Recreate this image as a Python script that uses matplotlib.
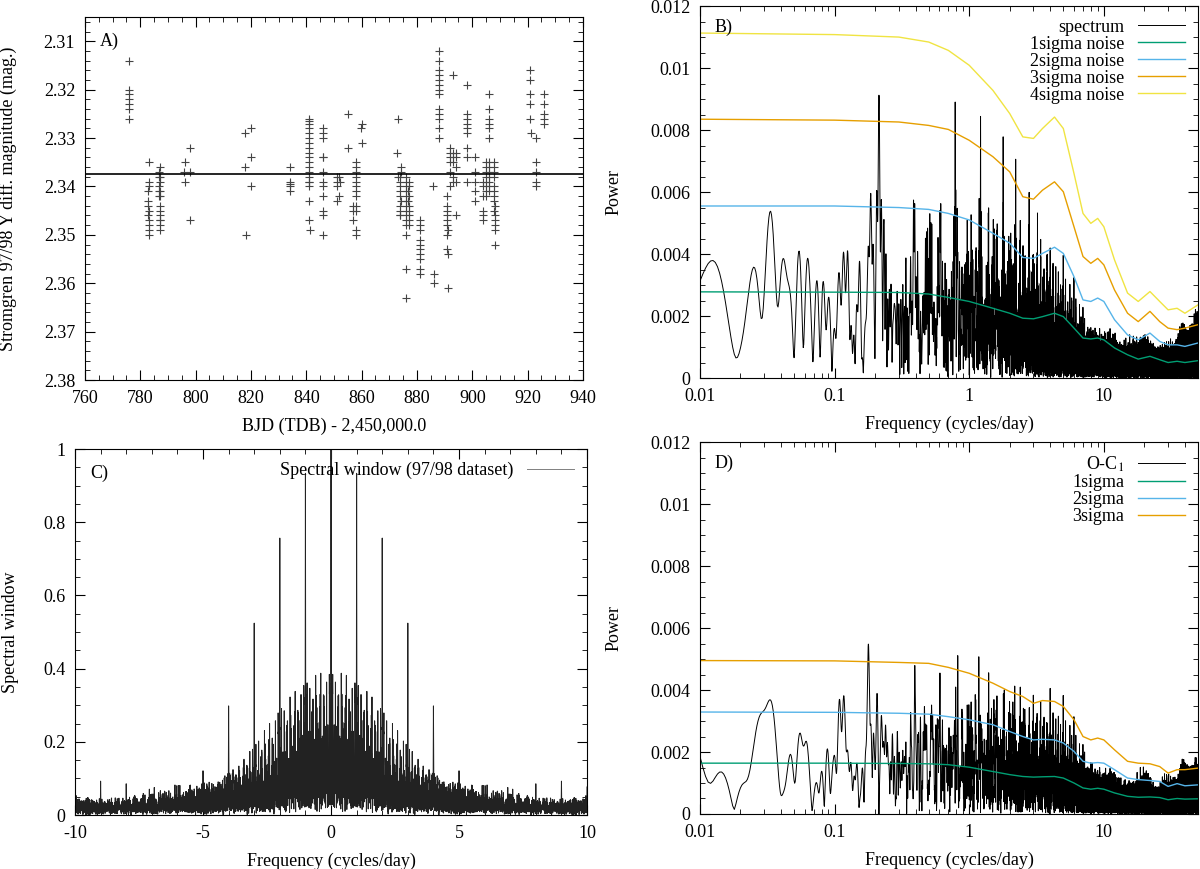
import numpy as np
import matplotlib
matplotlib.use("Agg")
import matplotlib.pyplot as plt
from matplotlib.ticker import MultipleLocator, LogLocator, NullFormatter, FuncFormatter

plt.rcParams['font.family'] = ['Liberation Serif', 'DejaVu Serif']
plt.rcParams['mathtext.fontset'] = 'stix'
plt.rcParams['font.size'] = 13

# --- light curve (97/98 season), one list of magnitudes per night ---
nights = [776, 783, 787, 796, 798, 818, 820, 834, 841, 846, 851, 852, 855,
          857, 858, 860, 873, 874, 876, 877, 881, 886, 888, 891, 892, 893,
          894, 898, 901, 904, 905, 906, 908, 921, 923, 926]
mags = [
    [2.3220, 2.3230, 2.3200, 2.3141, 2.3210, 2.3260, 2.3240],
    [2.344, 2.343, 2.346, 2.341, 2.340, 2.345, 2.349, 2.350, 2.347, 2.348, 2.339, 2.335],
    [2.341, 2.342, 2.340, 2.338, 2.337, 2.339, 2.344, 2.345, 2.342, 2.347, 2.346, 2.349,
     2.348, 2.347, 2.341, 2.336, 2.338],
    [2.337, 2.339, 2.335],
    [2.337, 2.332, 2.347],
    [2.336, 2.329, 2.350],
    [2.334, 2.340, 2.328],
    [2.3390, 2.3395, 2.3410, 2.3400, 2.3360],
    [2.3330, 2.3310, 2.3340, 2.3360, 2.3350, 2.3390, 2.3380, 2.3430, 2.3400, 2.3370,
     2.3320, 2.3300, 2.3290, 2.3270, 2.3260, 2.3280, 2.3265, 2.3390, 2.3470, 2.3490],
    [2.337, 2.339, 2.334, 2.340, 2.345, 2.342, 2.350, 2.346, 2.334, 2.330, 2.328, 2.329],
    [2.339, 2.338, 2.340, 2.343],
    [2.338, 2.342, 2.339],
    [2.332, 2.325],
    [2.344, 2.345, 2.347],
    [2.340, 2.338, 2.341, 2.339, 2.342, 2.345, 2.344, 2.349, 2.350, 2.337, 2.336, 2.335],
    [2.328, 2.327, 2.331],
    [2.333, 2.338, 2.326],
    [2.339, 2.340, 2.338, 2.342, 2.341, 2.344, 2.346, 2.345, 2.346, 2.343, 2.337, 2.336],
    [2.342, 2.344, 2.343, 2.346, 2.348, 2.357, 2.350, 2.363, 2.347, 2.345, 2.341, 2.339,
     2.340, 2.338],
    [2.341, 2.343, 2.342, 2.345, 2.344, 2.347, 2.348, 2.346, 2.340, 2.339],
    [2.349, 2.347, 2.348, 2.351, 2.353, 2.352, 2.355, 2.358, 2.357, 2.354],
    [2.340, 2.358, 2.360],
    [2.326, 2.324, 2.328, 2.330, 2.325, 2.321, 2.319, 2.320, 2.317, 2.318, 2.314, 2.312, 2.316],
    [2.346, 2.344, 2.342, 2.345, 2.348, 2.347, 2.350, 2.353, 2.349, 2.354, 2.361],
    [2.333, 2.334, 2.332, 2.337, 2.335, 2.340],
    [2.335, 2.334, 2.338, 2.339, 2.333, 2.317],
    [2.334, 2.333, 2.336, 2.339, 2.346],
    [2.327, 2.326, 2.329, 2.328, 2.332, 2.334, 2.339, 2.325, 2.319],
    [2.337, 2.334, 2.339, 2.343, 2.341],
    [2.340, 2.339, 2.342, 2.346, 2.347, 2.345],
    [2.337, 2.338, 2.336, 2.335, 2.339, 2.341, 2.340, 2.342],
    [2.328, 2.327, 2.330, 2.326, 2.324, 2.321, 2.335, 2.337, 2.336, 2.339, 2.338, 2.341, 2.340],
    [2.338, 2.340, 2.337, 2.336, 2.335, 2.341, 2.343, 2.342, 2.345, 2.344, 2.347, 2.349,
     2.352, 2.348, 2.346],
    [2.321, 2.323, 2.318, 2.316, 2.326, 2.329],
    [2.337, 2.335, 2.330, 2.339, 2.340],
    [2.323, 2.325, 2.321, 2.326, 2.327],
]
mean_mag = 2.3375

# noise levels
noise_freq = [0.01, 0.1, 0.3, 0.5, 0.7, 1, 1.5, 2, 2.5, 3, 3.5, 4.3, 5, 6, 7, 8, 9,
              10, 12, 15, 18, 22, 26, 30, 35, 40, 50]
b_sig1 = [2.78, 2.77, 2.76, 2.71, 2.60, 2.47, 2.25, 2.09, 1.93, 1.91, 1.98, 2.09, 1.98,
          1.61, 1.29, 1.26, 1.29, 1.23, 0.97, 0.75, 0.61, 0.70, 0.59, 0.50, 0.54, 0.50, 0.56]
b_sig2 = [5.55, 5.55, 5.50, 5.44, 5.31, 5.10, 4.67, 4.35, 3.89, 3.86, 4.02, 4.22, 4.02,
          3.27, 2.52, 2.47, 2.58, 2.47, 1.88, 1.39, 1.23, 1.45, 1.18, 1.07, 1.07, 1.02, 1.13]
b_sig3 = [8.35, 8.32, 8.26, 8.15, 8.02, 7.67, 7.14, 6.65, 5.85, 5.77, 6.06, 6.33, 6.01,
          4.88, 3.92, 3.70, 3.86, 3.65, 2.84, 2.09, 1.82, 2.15, 1.82, 1.61, 1.56, 1.61, 1.72]
b_sig4 = [11.13, 11.08, 11.00, 10.84, 10.57, 10.09, 9.28, 8.53, 7.78, 7.73, 8.05, 8.42, 8.05,
          6.60, 5.31, 4.99, 5.15, 4.88, 3.81, 2.74, 2.47, 2.79, 2.47, 2.20, 2.25, 2.09, 2.36]
d_sig1 = [1.64, 1.64, 1.63, 1.62, 1.59, 1.51, 1.37, 1.27, 1.21, 1.19, 1.20, 1.21, 1.16,
          1.00, 0.84, 0.80, 0.83, 0.80, 0.68, 0.57, 0.54, 0.55, 0.53, 0.46, 0.50, 0.48, 0.49]
d_sig2 = [3.29, 3.28, 3.25, 3.22, 3.14, 3.04, 2.88, 2.66, 2.50, 2.39, 2.41, 2.39, 2.29,
          2.02, 1.70, 1.64, 1.66, 1.64, 1.43, 1.16, 1.11, 1.08, 1.05, 0.89, 0.98, 0.91, 0.94]
d_sig3 = [4.95, 4.94, 4.89, 4.86, 4.73, 4.54, 4.22, 3.95, 3.79, 3.57, 3.66, 3.63, 3.47,
          3.04, 2.50, 2.39, 2.45, 2.39, 2.07, 1.70, 1.64, 1.62, 1.53, 1.32, 1.43, 1.43, 1.48]

# observation times: runs centred on the same local time each night, ~25 min cadence,
# short nights spread over at least ~2.5 h
cadence = 0.017
min_half = 0.05
t = np.concatenate([n + np.linspace(-1, 1, len(m)) * max(cadence * (len(m) - 1) / 2, min_half)
                    for n, m in zip(nights, mags)])
y = np.concatenate([np.array(m) for m in mags])


def amp_spectrum(t, y, freqs):
    y = y - y.mean()
    out = []
    for chunk in np.array_split(freqs, max(1, len(freqs) // 2000)):
        ph = np.exp(-2j * np.pi * np.outer(chunk, t))
        out.append(2.0 / len(t) * np.abs(ph @ y))
    return np.concatenate(out)


def window(t, freqs):
    ph = np.exp(-2j * np.pi * np.outer(freqs, t))
    return np.abs(ph.sum(axis=1)) / len(t)


freqs = np.arange(0.01, 50.0, 0.0005)
spec = amp_spectrum(t, y, freqs)

# prewhiten the strongest peak -> O-C_1
f1 = freqs[np.argmax(spec)]
X = np.column_stack([np.sin(2 * np.pi * f1 * t), np.cos(2 * np.pi * f1 * t), np.ones_like(t)])
coef, *_ = np.linalg.lstsq(X, y, rcond=None)
resid = y - X @ coef
spec_oc = amp_spectrum(t, resid, freqs)

wfreq = np.arange(-10.0, 10.0, 0.002)
win = window(t, wfreq)

green, blue, orange, yellow = '#009e73', '#56b4e9', '#e69f00', '#f0e442'

fig = plt.figure(figsize=(12, 8.69), dpi=100)
axA = fig.add_axes([0.0708, 0.5627, 0.415, 0.4177])
axB = fig.add_axes([0.5833, 0.565, 0.415, 0.428])
axC = fig.add_axes([0.0625, 0.0621, 0.4267, 0.4212])
axD = fig.add_axes([0.5833, 0.0633, 0.415, 0.428])


def style(ax):
    ax.tick_params(which='both', direction='in', top=True, right=True)
    ax.tick_params(which='major', length=7, pad=7)
    ax.tick_params(which='minor', length=3.5)


# A) light curve
axA.plot(t, y, '+', color='#444444', ms=6, mew=0.8)
axA.axhline(mean_mag, color='black', lw=1.2)
axA.set_xlim(760, 940)
axA.set_ylim(2.38, 2.305)
axA.xaxis.set_major_locator(MultipleLocator(20))
axA.xaxis.set_minor_locator(MultipleLocator(5))
axA.yaxis.set_major_locator(MultipleLocator(0.01))
axA.yaxis.set_minor_locator(MultipleLocator(0.002))
axA.yaxis.set_major_formatter(FuncFormatter(lambda v, p: f'{v:.2f}'))
axA.set_xlabel('BJD (TDB) - 2,450,000.0', labelpad=8)
axA.set_ylabel('Stromgren 97/98 Y diff. magnitude (mag.)', labelpad=19)
axA.text(0.03, 0.92, 'A)', transform=axA.transAxes)
style(axA)


def periodogram(ax, spec_y, sig, labels, tag, sig_colors):
    ax.plot(freqs, spec_y, color='black', lw=0.7, label=labels[0])
    for s, lab, c in zip(sig, labels[1:], sig_colors):
        ax.plot(noise_freq, np.array(s) * 1e-3, color=c, lw=1.0, label=lab)
    ax.set_xscale('log')
    ax.set_xlim(0.01, 50)
    ax.set_ylim(0, 0.012)
    ax.xaxis.set_major_locator(LogLocator(base=10))
    ax.xaxis.set_minor_locator(LogLocator(base=10, subs=np.arange(2, 10)))
    ax.xaxis.set_minor_formatter(NullFormatter())
    ax.xaxis.set_major_formatter(FuncFormatter(lambda v, p: f'{v:g}'))
    ax.yaxis.set_major_locator(MultipleLocator(0.002))
    ax.yaxis.set_minor_locator(MultipleLocator(0.0005))
    ax.yaxis.set_major_formatter(FuncFormatter(lambda v, p: '0' if v == 0 else f'{v:g}'))
    ax.set_xlabel('Frequency (cycles/day)', labelpad=8)
    ax.set_ylabel('Power', labelpad=20)
    ax.text(0.03, 0.93, tag, transform=ax.transAxes)
    ax.legend(loc='upper right', frameon=False, markerfirst=False, handlelength=2.6,
              labelspacing=0.0, borderaxespad=0.3, fontsize=13)
    style(ax)


periodogram(axB, spec, [b_sig1, b_sig2, b_sig3, b_sig4],
            ['spectrum', '1sigma noise', '2sigma noise', '3sigma noise', '4sigma noise'],
            'B)', [green, blue, orange, yellow])
periodogram(axD, spec_oc, [d_sig1, d_sig2, d_sig3],
            ['O-C$_1$', '1sigma', '2sigma', '3sigma'],
            'D)', [green, blue, orange])

# C) spectral window
axC.plot(wfreq, win, color='#222222', lw=0.7, label='Spectral window (97/98 dataset)')
axC.set_xlim(-10, 10)
axC.set_ylim(0, 1)
axC.xaxis.set_major_locator(MultipleLocator(5))
axC.xaxis.set_minor_locator(MultipleLocator(1))
axC.yaxis.set_major_locator(MultipleLocator(0.2))
axC.yaxis.set_minor_locator(MultipleLocator(0.05))
axC.xaxis.set_major_formatter(FuncFormatter(lambda v, p: f'{v:g}'))
axC.yaxis.set_major_formatter(FuncFormatter(lambda v, p: f'{v:g}'))
axC.set_xlabel('Frequency (cycles/day)', labelpad=8)
axC.set_ylabel('Spectral window', labelpad=17)
axC.text(0.03, 0.92, 'C)', transform=axC.transAxes)
leg = axC.legend(loc='upper right', frameon=False, markerfirst=False, handlelength=2.6,
                 borderaxespad=0.3, fontsize=13)
leg.get_lines()[0].set_color('gray')
style(axC)

fig.savefig('out.png', dpi=100)
